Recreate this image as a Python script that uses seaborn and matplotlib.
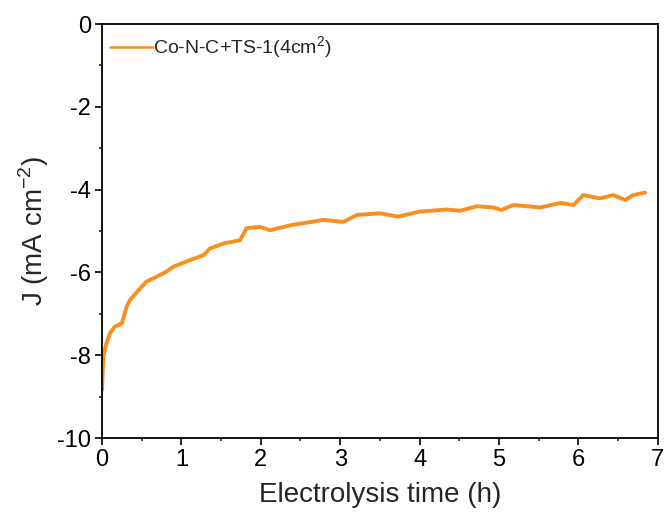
import matplotlib
matplotlib.use("Agg")
import matplotlib.pyplot as plt
import seaborn as sns
import pandas as pd
from matplotlib.ticker import MultipleLocator

# Data
time_h = [0, 0.016, 0.05, 0.10, 0.16, 0.25, 0.31, 0.35, 0.46, 0.56, 0.69, 0.81, 0.90,
          1.11, 1.28, 1.36, 1.53, 1.74, 1.82, 1.99, 2.12, 2.37, 2.79, 3.04, 3.21,
          3.50, 3.73, 4.00, 4.34, 4.51, 4.72, 4.93, 5.03, 5.18, 5.52, 5.77, 5.94,
          6.06, 6.27, 6.44, 6.59, 6.69, 6.84]
current_j = [-8.84, -8.04, -7.75, -7.47, -7.31, -7.23, -6.83, -6.67, -6.43, -6.22, -6.10,
             -5.98, -5.86, -5.70, -5.58, -5.42, -5.30, -5.22, -4.93, -4.90, -4.98, -4.86,
             -4.73, -4.78, -4.61, -4.57, -4.65, -4.53, -4.48, -4.51, -4.40, -4.43, -4.49,
             -4.37, -4.43, -4.32, -4.37, -4.13, -4.21, -4.13, -4.25, -4.13, -4.07]
series_label = "Co-N-C+TS-1(4cm$^2$)"
x_label = "Electrolysis time (h)"
y_label = "J (mA cm$^{\\mathrm{-}2}$)"

sns.set_style("ticks")
plt.rcParams["font.family"] = ["Liberation Sans", "DejaVu Sans"]
plt.rcParams["axes.unicode_minus"] = False
plt.rcParams["mathtext.fontset"] = "custom"
plt.rcParams["mathtext.rm"] = "Liberation Sans"

df = pd.DataFrame({"t": time_h, "J": current_j})

fig = plt.figure(figsize=(6.68, 5.24), dpi=100)
ax = fig.add_axes([0.1527, 0.164, 0.832, 0.790])
sns.lineplot(data=df, x="t", y="J", ax=ax, color="#F7901E", linewidth=2.8,
             sort=False, estimator=None, label=series_label)

ax.set_xlim(0, 7)
ax.set_ylim(-10, 0)
ax.xaxis.set_major_locator(MultipleLocator(1))
ax.xaxis.set_minor_locator(MultipleLocator(0.5))
ax.yaxis.set_major_locator(MultipleLocator(2))
ax.yaxis.set_minor_locator(MultipleLocator(1))
ax.tick_params(which="major", direction="out", length=5, width=1.2, labelsize=17,
               pad=3, colors="black", top=False, right=False)
ax.tick_params(which="minor", direction="out", length=2.5, width=1.2,
               top=False, right=False)
for s in ax.spines.values():
    s.set_linewidth(1.3)
    s.set_color("black")
    s.set_visible(True)

ax.set_xlabel(x_label, fontsize=20, labelpad=8)
ax.set_ylabel(y_label, fontsize=20, labelpad=4)

leg = ax.legend(loc="upper left", frameon=False, fontsize=14,
                handlelength=2.2, handletextpad=0.0, borderaxespad=0.0,
                borderpad=0.0, bbox_to_anchor=(0.0144, 0.976))
for h in leg.get_lines():
    h.set_linewidth(1.8)

fig.savefig("out.png", dpi=100)
